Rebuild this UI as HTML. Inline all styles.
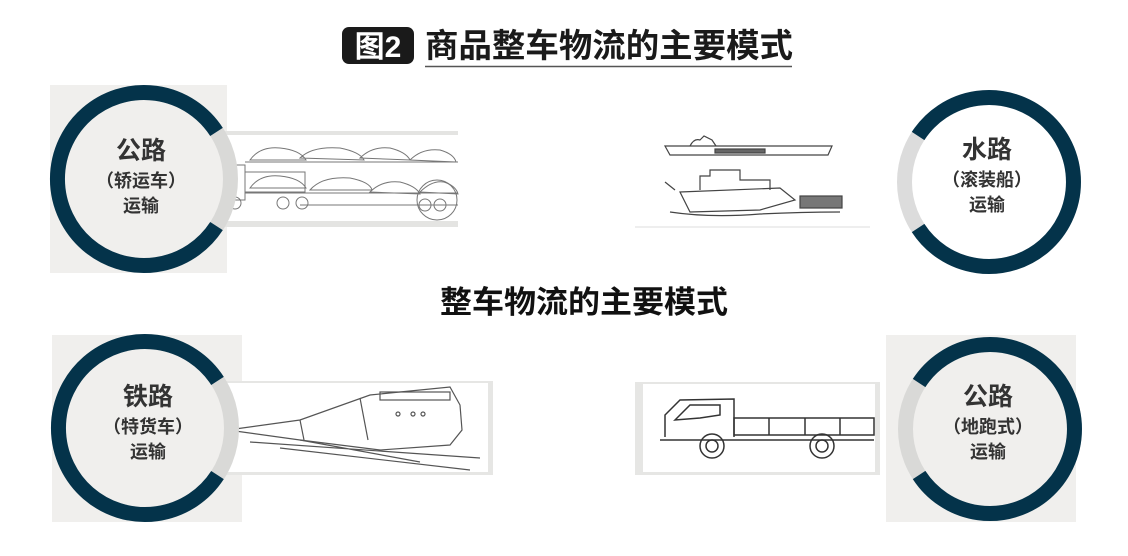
<!DOCTYPE html>
<html><head><meta charset="utf-8">
<style>
html,body{margin:0;padding:0;background:#fff;}
body{width:1128px;height:551px;overflow:hidden;font-family:"Liberation Sans","Noto Sans CJK SC",sans-serif;}
svg text{font-family:"Liberation Sans","Noto Sans CJK SC",sans-serif;}
</style></head><body>
<svg width="1128" height="551" viewBox="0 0 1128 551" xmlns="http://www.w3.org/2000/svg">
<rect width="1128" height="551" fill="#fff"/>
<!-- Title -->
<rect x="342" y="27" width="72" height="37" rx="7" fill="#1a1a1a"/>
<text x="378" y="57" font-size="30" font-weight="bold" fill="#fff" text-anchor="middle">图2</text>
<text x="425" y="57" font-size="33" font-weight="bold" fill="#1a1a1a" textLength="368" lengthAdjust="spacingAndGlyphs">商品整车物流的主要模式</text>
<line x1="425" y1="66.5" x2="792" y2="66.5" stroke="#555" stroke-width="1.5"/>
<!-- center heading -->
<text x="584" y="313" font-size="31" font-weight="bold" fill="#111" text-anchor="middle" textLength="288" lengthAdjust="spacingAndGlyphs">整车物流的主要模式</text>

<!-- TL -->
<rect x="50" y="85" width="177" height="188" fill="#f0efed"/>
<rect x="203" y="131" width="255" height="96" fill="#e4e4e2"/>
<rect x="217" y="135" width="241" height="86" fill="#fff"/>
<g stroke="#777" fill="none" stroke-width="1">
<rect x="223" y="165" width="22" height="35"/><rect x="245" y="172" width="60" height="20"/>
<line x1="245" y1="162" x2="458" y2="162"/><line x1="245" y1="193" x2="458" y2="193"/><line x1="300" y1="205" x2="458" y2="205"/>
<path d="M250 160 q10 -14 30 -12 q20 2 26 12 z M300 158 q12 -12 40 -10 q20 4 24 12z M360 158 q12 -12 30 -10 q16 4 20 12z M410 160 q12 -12 30 -10 q14 4 16 12z"/>
<path d="M250 188 q10 -14 30 -12 q20 2 26 12 z M310 190 q12 -14 40 -12 q20 4 22 12z M370 192 q12 -12 30 -10 q16 4 20 12z M420 192 q12 -12 24 -10 q12 4 14 12z"/>
<circle cx="235" cy="203" r="6"/><circle cx="283" cy="203" r="6"/><circle cx="302" cy="203" r="6"/><circle cx="425" cy="205" r="6"/><circle cx="440" cy="205" r="6"/>
<circle cx="437" cy="200" r="20"/>
</g>
<circle cx="144" cy="179" r="86" fill="#f0efed"/>
<circle cx="144" cy="179" r="86.5" fill="none" stroke="#d9d9d7" stroke-width="15"/>
<path d="M216.5 131.9 A86.5 86.5 0 1 0 216.5 226.1" fill="none" stroke="#04334a" stroke-width="15"/>
<text x="141" y="159" font-size="25" font-weight="bold" fill="#333" text-anchor="middle">公路</text>
<text x="141" y="187" font-size="18" font-weight="bold" fill="#333" text-anchor="middle">（轿运车）</text>
<text x="141" y="212" font-size="18" font-weight="bold" fill="#333" text-anchor="middle">运输</text>

<!-- TR -->
<rect x="635" y="128" width="222" height="100" fill="#fff"/>
<line x1="635" y1="227" x2="870" y2="227" stroke="#ddd" stroke-width="1"/>
<g stroke="#444" fill="none" stroke-width="1.2">
<path d="M665 146 L832 146 L828 155 L670 155 Z"/>
<path d="M690 146 q4 -8 10 -6 l4 -4 l8 4 l4 6"/>
<rect x="715" y="149" width="50" height="4" fill="#666"/>
<path d="M680 192 L780 188 L795 200 L760 210 L690 212 Z"/>
<path d="M700 190 l0 -14 l10 0 l0 -6 l30 0 l0 10 l30 0 l0 10"/>
<path d="M675 190 l-10 -8"/>
<rect x="800" y="196" width="42" height="12" fill="#777"/>
<path d="M670 212 q40 6 90 2 q40 -2 80 -2"/>
</g>
<circle cx="989" cy="182" r="86" fill="#fff"/>
<circle cx="989" cy="182" r="84.5" fill="none" stroke="#dcdcdc" stroke-width="15"/>
<path d="M918.1 136 A84.5 84.5 0 1 1 918.1 228" fill="none" stroke="#04334a" stroke-width="15"/>
<text x="987" y="158" font-size="25" font-weight="bold" fill="#333" text-anchor="middle">水路</text>
<text x="987" y="186" font-size="18" font-weight="bold" fill="#333" text-anchor="middle">（滚装船）</text>
<text x="987" y="211" font-size="18" font-weight="bold" fill="#333" text-anchor="middle">运输</text>

<!-- BL -->
<rect x="52" y="335" width="190" height="187" fill="#f0efed"/>
<rect x="220" y="381" width="273" height="94" fill="#e6e6e4"/>
<rect x="222" y="383" width="266" height="89" fill="#fff"/>
<g stroke="#555" fill="none" stroke-width="1.2">
<path d="M228 430 L300 420 L370 395 L450 387 L460 405 L462 430 L450 445 L380 450 L300 440 Z"/>
<path d="M360 398 L368 440 M300 420 L304 440"/>
<path d="M250 442 L480 458 M280 448 L470 470 M300 440 L420 462"/>
<rect x="380" y="392" width="70" height="8"/>
<circle cx="398" cy="414" r="2"/><circle cx="413" cy="414" r="2"/><circle cx="423" cy="414" r="2"/>
</g>
<circle cx="145" cy="428" r="86" fill="#f0efed"/>
<circle cx="145" cy="428" r="86.5" fill="none" stroke="#d9d9d7" stroke-width="15"/>
<path d="M217.5 380.9 A86.5 86.5 0 1 0 217.5 475.1" fill="none" stroke="#04334a" stroke-width="15"/>
<text x="148" y="405" font-size="25" font-weight="bold" fill="#333" text-anchor="middle">铁路</text>
<text x="148" y="433" font-size="18" font-weight="bold" fill="#333" text-anchor="middle">（特货车）</text>
<text x="148" y="458" font-size="18" font-weight="bold" fill="#333" text-anchor="middle">运输</text>

<!-- BR -->
<rect x="886" y="335" width="190" height="187" fill="#f0efed"/>
<rect x="635" y="382" width="245" height="93" fill="#e6e6e4"/>
<rect x="643" y="384" width="232" height="88" fill="#fff"/>
<g stroke="#333" fill="none" stroke-width="1.5">
<path d="M665 437 L665 415 L680 400 L734 399 L734 437"/>
<path d="M675 420 L690 405 L720 405 L720 415 L700 418 Z"/>
<rect x="734" y="418" width="140" height="17"/>
<line x1="769" y1="418" x2="769" y2="435"/><line x1="805" y1="418" x2="805" y2="435"/><line x1="840" y1="418" x2="840" y2="435"/>
<line x1="660" y1="440" x2="874" y2="440"/>
<circle cx="712" cy="446" r="12"/><circle cx="712" cy="446" r="6"/>
<circle cx="822" cy="446" r="12"/><circle cx="822" cy="446" r="6"/>
</g>
<circle cx="990" cy="429" r="86" fill="#f0efed"/>
<circle cx="990" cy="429" r="84.5" fill="none" stroke="#d9d9d7" stroke-width="15"/>
<path d="M919.1 383 A84.5 84.5 0 1 1 919.1 475" fill="none" stroke="#04334a" stroke-width="15"/>
<text x="988" y="405" font-size="25" font-weight="bold" fill="#333" text-anchor="middle">公路</text>
<text x="988" y="433" font-size="18" font-weight="bold" fill="#333" text-anchor="middle">（地跑式）</text>
<text x="988" y="458" font-size="18" font-weight="bold" fill="#333" text-anchor="middle">运输</text>
</svg>
</body></html>
